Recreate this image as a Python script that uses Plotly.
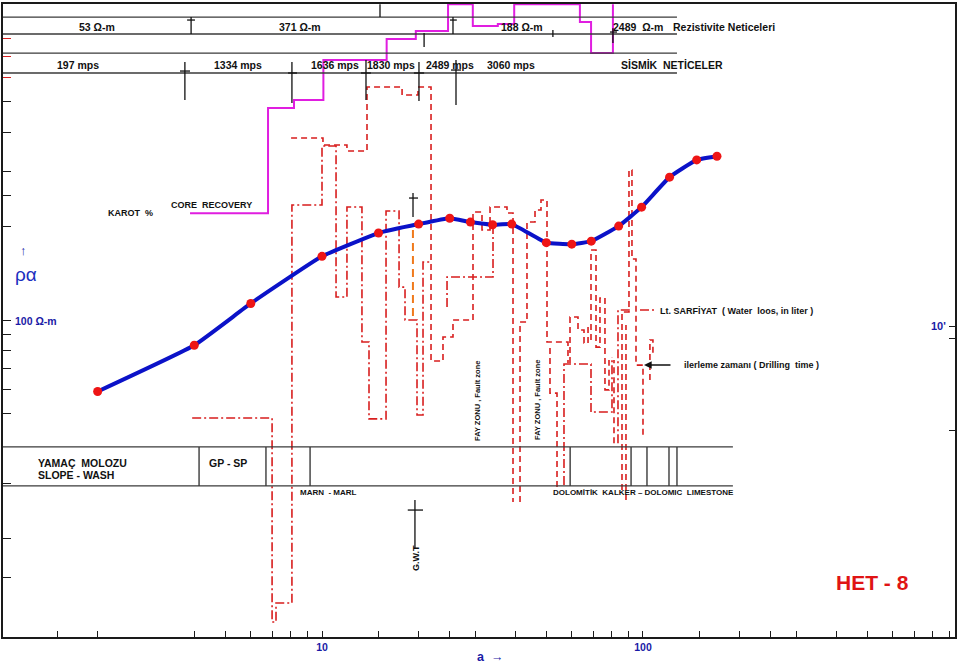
import math
import plotly.graph_objects as go

FONT = "Liberation Sans, Arial, sans-serif"
BLUE_TXT = "#1a1aa6"
RED = "#d81e1e"

# ---------------- data ----------------
# apparent resistivity sounding curve (a = electrode spacing, rho_a in ohm-m)
spacing_a = [2, 4, 6, 10, 15, 20, 25, 29, 34, 39, 50, 60, 69, 84, 99, 121, 147, 170]
rho_a = [59, 83, 113, 160, 190, 203, 212, 206, 202, 203, 177, 175, 179, 200, 230, 287, 326, 335]

# core recovery (KAROT %) step line
core_a = [3.88, 6.79, 6.79, 8.18, 8.18, 10.1, 10.1, 15.9, 15.9, 19.6, 19.6, 24.7, 24.7,
          29.5, 29.5, 35.3, 35.3, 39.7, 39.7, 63.6, 63.6, 68.9, 68.9, 80.6, 80.6]
core_r = [220, 220, 478, 478, 507, 507, 681, 681, 795, 795, 844, 844, 1028,
          1028, 875, 875, 889, 889, 1028, 1028, 902, 902, 717, 717, 1028]

# drilling time (dashed) step lines
drill1_a = [8.01, 10.07, 10.07, 11.96, 11.96, 13.81, 13.81, 17.76, 17.76, 19.91, 19.91, 21.86, 21.86,
            23.82, 23.82, 25.59, 25.59, 29.54, 29.54, 31.51, 31.51, 33.38, 33.38, 37.70, 37.70, 39.36, 39.36]
drill1_r = [383.2, 383.2, 363.8, 363.8, 348.1, 348.1, 558.2, 558.2, 526.2, 526.2, 558.2, 558.2, 73.9,
            73.9, 88.2, 88.2, 100, 100, 221.9, 221.9, 194.3, 194.3, 230.3, 230.3, 220.3, 220.3, 26.1]
drill2_a = [41.39, 41.39, 43.51, 43.51, 46.09, 46.09, 48.11, 48.11, 50.23, 50.23, 58.39, 58.39]
drill2_r = [26.1, 98.5, 98.5, 206.2, 206.2, 225.3, 225.3, 242.5, 242.5, 85.0, 85.0, 72.8]
drill3_a = [51.32, 51.32, 53.97, 53.97]
drill3_r = [81.3, 58.3, 58.3, 29.15]
drill4_a = [59.24, 59.24, 62.74, 62.74, 65.50, 65.50, 67.42, 67.42]
drill4_r = [72.8, 102.2, 102.2, 92.9, 92.9, 84.4, 84.4, 96.4]
drill5_a = [68.87, 68.87, 71.39, 71.39, 73.45, 73.45, 76.13, 76.13, 78.36, 78.36]
drill5_r = [86.3, 167.6, 167.6, 81.9, 81.9, 117.6, 117.6, 59.7, 59.7, 74.4]
drill6_a = [86.02, 86.02, 90.44, 90.44, 92.40, 92.40, 95.11, 95.11, 100, 100]
drill6_r = [28.5, 106.1, 106.1, 302.6, 302.6, 156.9, 156.9, 71.7, 71.7, 42.2]
drill7_a = [88.51, 88.51]
drill7_r = [26.5, 96.4]
drill8_a = [105.1, 105.1, 107.4, 107.4]
drill8_r = [64.2, 86.3, 86.3, 77.2]
drill9_a = [81.22, 81.22]
drill9_r = [40.3, 74.4]

# water loss (dash-dot) step lines
water1_a = [3.94, 6.99, 6.99, 7.19, 7.19, 8.06, 8.06, 10.0, 10.0, 11.06, 11.06, 11.96, 11.96, 13.32,
            13.32, 14.01, 14.01, 15.83, 15.83, 17.38, 17.38, 18.14, 18.14, 19.77, 19.77, 20.64, 20.64, 22.02]
water1_r = [48.5, 48.5, 10.77, 10.77, 12.39, 12.39, 233.7, 233.7, 361.2, 361.2, 118.5, 118.5, 230.3, 230.3,
            85.0, 85.0, 48.2, 48.2, 223.6, 223.6, 127.5, 127.5, 100, 100, 49.6, 49.6, 153.5, 153.5]
water2_a = [24.52, 24.52, 34.10, 34.10]
water2_r = [110.1, 137.4, 137.4, 201.6]
water3_a = [56.74, 56.74, 68.87, 68.87, 80.06, 80.06]
water3_r = [29.6, 72.3, 72.3, 50.7, 50.7, 76.1]
water4_a = [83.58, 83.58, 92.40]
water4_r = [40.3, 107.7, 107.7]
water5_a = [97.88, 109.0]
water5_r = [107.7, 107.7]

# ground water table marker (orange)
gwt_a = [19.2, 19.2]
gwt_r = [194.3, 100]

# black survey markers (+ crosses) in the header rows and body
cross_a = [3.91, 3.91, None, 3.80, 4.02, None, 20.8, 20.8, None, 25.59, 25.59, None, 25.05, 26.3, None,
           52.4, 52.4, None, 80.6, 80.6, None, 78.9, 83.0, None, 15.16, 15.16, None,
           3.74, 3.74, None, 3.61, 3.88, None, 8.06, 8.06, None, 7.84, 8.36, None,
           13.71, 13.71, None, 13.23, 14.2, None, 20.05, 20.05, None, 19.34, 20.8, None,
           26.15, 26.15, None, 25.23, 27.1, None, 19.21, 19.21, None, 18.67, 19.91, None,
           19.48, 19.48, None, 18.5, 20.64]
cross_r = [935, 825, None, 915, 915, None, 831.7, 750, None, 935, 825, None, 915, 915, None,
           850, 807.7, None, 862, 772.5, None, 837.5, 837.5, None, 1028, 935, None,
           671, 507, None, 628, 628, None, 671, 496, None, 619, 619, None,
           681, 507, None, 619, 619, None, 671, 503.5, None, 619, 619, None,
           681, 488.7, None, 632.7, 632.7, None, 255.3, 213.8, None, 246, 246, None,
           26.5, 18.6, None, 24.6, 24.6]

# header row boundaries and lithology band
header_levels = [935, 825, 717, 619]
header_extent = [1.0144, 127.6]
litho_levels = [39.2, 29.4]
litho_extent = [1.0144, 190.6]
litho_dividers = [4.14, 6.69, 9.18, 59.3, 91.8, 102.9, 120.5, 127.6]

# axes
x_range = [1.0144, 937.6]
y_range = [9.64, 1030]
x_ticks = [1.5, 2, 4, 5, 6, 7, 8, 9, 10, 15, 20, 25, 30, 40, 50, 60, 70, 80, 90, 100,
           150, 200, 250, 300, 400, 500, 600, 700, 800, 900]
x_ticklabels = {10: "10", 100: "100"}
y_ticks = [15, 20, 30, 50, 60, 70, 80, 90, 100, 200, 250, 300, 400, 500]
y_ticks_red = [600, 700, 800]
y2_ticks = [95, 87.5, 44.4]


def join(*segs):
    xs, ys = [], []
    for sx, sy in segs:
        if xs:
            xs.append(None)
            ys.append(None)
        xs += list(sx)
        ys += list(sy)
    return xs, ys


fig = go.Figure()

# drilling time (dashed)
dx, dy = join((drill1_a, drill1_r), (drill2_a, drill2_r), (drill3_a, drill3_r), (drill4_a, drill4_r),
              (drill5_a, drill5_r), (drill6_a, drill6_r), (drill7_a, drill7_r), (drill8_a, drill8_r),
              (drill9_a, drill9_r))
fig.add_trace(go.Scatter(x=dx, y=dy, mode="lines", hoverinfo="skip",
                         line=dict(color=RED, width=1.6, dash="6px,4px")))
# water loss (dash-dot)
wx, wy = join((water1_a, water1_r), (water2_a, water2_r), (water3_a, water3_r),
              (water4_a, water4_r), (water5_a, water5_r))
fig.add_trace(go.Scatter(x=wx, y=wy, mode="lines", hoverinfo="skip",
                         line=dict(color=RED, width=1.6, dash="9px,3px,2px,3px")))
# orange GWT marker
fig.add_trace(go.Scatter(x=gwt_a, y=gwt_r, mode="lines", hoverinfo="skip",
                         line=dict(color="#f07a1c", width=2, dash="8px,5px")))
# core recovery
fig.add_trace(go.Scatter(x=core_a, y=core_r, mode="lines", hoverinfo="skip",
                         line=dict(color="#e01ee0", width=2)))

# header and lithology frame lines
hx, hy = [], []
for lv in header_levels:
    hx += [header_extent[0], header_extent[1], None]
    hy += [lv, lv, None]
for lv in litho_levels:
    hx += [litho_extent[0], litho_extent[1], None]
    hy += [lv, lv, None]
for dv in litho_dividers:
    hx += [dv, dv, None]
    hy += [litho_levels[0], litho_levels[1], None]
fig.add_trace(go.Scatter(x=hx, y=hy, mode="lines", hoverinfo="skip",
                         line=dict(color="#3a3a3a", width=1.4)))
# crosses
fig.add_trace(go.Scatter(x=cross_a, y=cross_r, mode="lines", hoverinfo="skip",
                         line=dict(color="#111111", width=1.3)))

# apparent resistivity curve
fig.add_trace(go.Scatter(x=spacing_a, y=rho_a, mode="lines+markers", hoverinfo="skip",
                         line=dict(color="#0b12c8", width=4, shape="spline", smoothing=0.35),
                         marker=dict(color="#ee1515", size=9)))
# dummy traces for extra tick axes
fig.add_trace(go.Scatter(x=[None], y=[None], yaxis="y2", showlegend=False, hoverinfo="skip"))
fig.add_trace(go.Scatter(x=[None], y=[None], yaxis="y3", showlegend=False, hoverinfo="skip"))

PW, PH = 952, 633


def P(x, y):
    return (x - 3) / PW, (637 - y) / PH


def ann(text, x, y, size, color="#111111", xanchor="center", angle=0, bold=True):
    px, py = P(x, y)
    return dict(text=("<b>%s</b>" % text) if bold else text, x=px, y=py, xref="paper", yref="paper",
                showarrow=False, xanchor=xanchor, yanchor="middle", textangle=angle,
                font=dict(size=size, color=color, family=FONT))


NB = "\u00a0"
anns = [
    ann("53 Ω-m", 97, 27, 10.5),
    ann("371 Ω-m", 300, 27, 10.5),
    ann("188 Ω-m", 522, 27, 10.5),
    ann("2489" + NB + NB + "Ω-m", 638, 27, 10.5),
    ann("Rezistivite Neticeleri", 724, 27, 10.5),
    ann("197 mps", 78, 65, 10.5),
    ann("1334 mps", 238, 65, 10.5),
    ann("1636 mps", 335, 65, 10.5),
    ann("1830 mps", 391, 65, 10.5),
    ann("2489 mps", 450, 65, 10.5),
    ann("3060 mps", 511, 65, 10.5),
    ann("SİSMİK" + NB + NB + "NETİCELER", 672, 65, 10.5),
    ann("KAROT" + NB + NB + "%", 130, 213, 9),
    ann("CORE" + NB + NB + "RECOVERY", 211, 205, 9),
    ann("\u2191", 23, 251, 13, color=BLUE_TXT),
    ann("ρα", 26, 274, 19, color="#1c2fc0", bold=False),
    ann("100 Ω-m", 13, 321, 10.5, color=BLUE_TXT, xanchor="left"),
    ann("10'", 938, 326, 11, color=BLUE_TXT),
    ann("Lt. SARFİYAT" + NB + NB + "( Water" + NB + NB + "loos, in liter )", 658, 311, 9, xanchor="left"),
    ann("ilerleme zamanı ( Drilling" + NB + NB + "time )", 682, 365, 9, xanchor="left"),
    ann("FAY ZONU , Fault zone", 477, 401, 7.5, angle=-90),
    ann("FAY ZONU , Fault zone", 537, 400, 7.5, angle=-90),
    ann("YAMAÇ" + NB + NB + "MOLOZU", 36, 463, 10.5, xanchor="left"),
    ann("SLOPE - WASH", 36, 475, 10.5, xanchor="left"),
    ann("GP - SP", 228, 463, 10.5),
    ann("MARN" + NB + NB + "- MARL", 298, 492, 8, xanchor="left"),
    ann("DOLOMİTİK" + NB + NB + "KALKER – DOLOMIC" + NB + NB + "LIMESTONE", 551, 492, 8, xanchor="left"),
    ann("G.W.T", 416, 558, 9, angle=-90),
    ann("HET - 8", 872, 582, 21, color="#e01414"),
    ann("a" + NB + NB + "\u2192", 490, 657, 12.5, color=BLUE_TXT),
]
tx, ty = P(644, 365)
anns.append(dict(text="", x=tx, y=ty, xref="paper", yref="paper", showarrow=True,
                 ax=28, ay=0, arrowhead=2, arrowsize=1.1, arrowwidth=1.4, arrowcolor="#111111"))

yr = [math.log10(y_range[0]), math.log10(y_range[1])]
fig.update_layout(
    width=959, height=665, autosize=False,
    margin=dict(l=3, r=4, t=4, b=28, pad=0),
    paper_bgcolor="white", plot_bgcolor="white",
    showlegend=False,
    font=dict(family=FONT),
    annotations=anns,
    xaxis=dict(type="log", range=[math.log10(x_range[0]), math.log10(x_range[1])],
               showgrid=False, zeroline=False, showline=True, mirror=True,
               linecolor="#1a1a1a", linewidth=1.6,
               ticks="inside", ticklen=6, tickwidth=1.2, tickcolor="#1a1a1a",
               tickmode="array", tickvals=x_ticks,
               ticktext=["<b>%s</b>" % x_ticklabels[v] if v in x_ticklabels else "" for v in x_ticks],
               tickfont=dict(size=10.5, color=BLUE_TXT, family=FONT)),
    yaxis=dict(type="log", range=yr,
               showgrid=False, zeroline=False, showline=True, mirror=True,
               linecolor="#1a1a1a", linewidth=1.6,
               ticks="inside", ticklen=8, tickwidth=1.2, tickcolor="#1a1a1a",
               tickmode="array", tickvals=y_ticks, showticklabels=False),
    yaxis2=dict(type="log", range=yr,
                overlaying="y", side="right", anchor="x",
                showgrid=False, zeroline=False, showline=False,
                ticks="inside", ticklen=6, tickwidth=1.2, tickcolor="#1a1a1a",
                tickmode="array", tickvals=y2_ticks, showticklabels=False),
    yaxis3=dict(type="log", range=yr,
                overlaying="y", side="left", anchor="x",
                showgrid=False, zeroline=False, showline=False,
                ticks="inside", ticklen=8, tickwidth=1.2, tickcolor="#d82020",
                tickmode="array", tickvals=y_ticks_red, showticklabels=False),
)

fig.write_html("out.html")
